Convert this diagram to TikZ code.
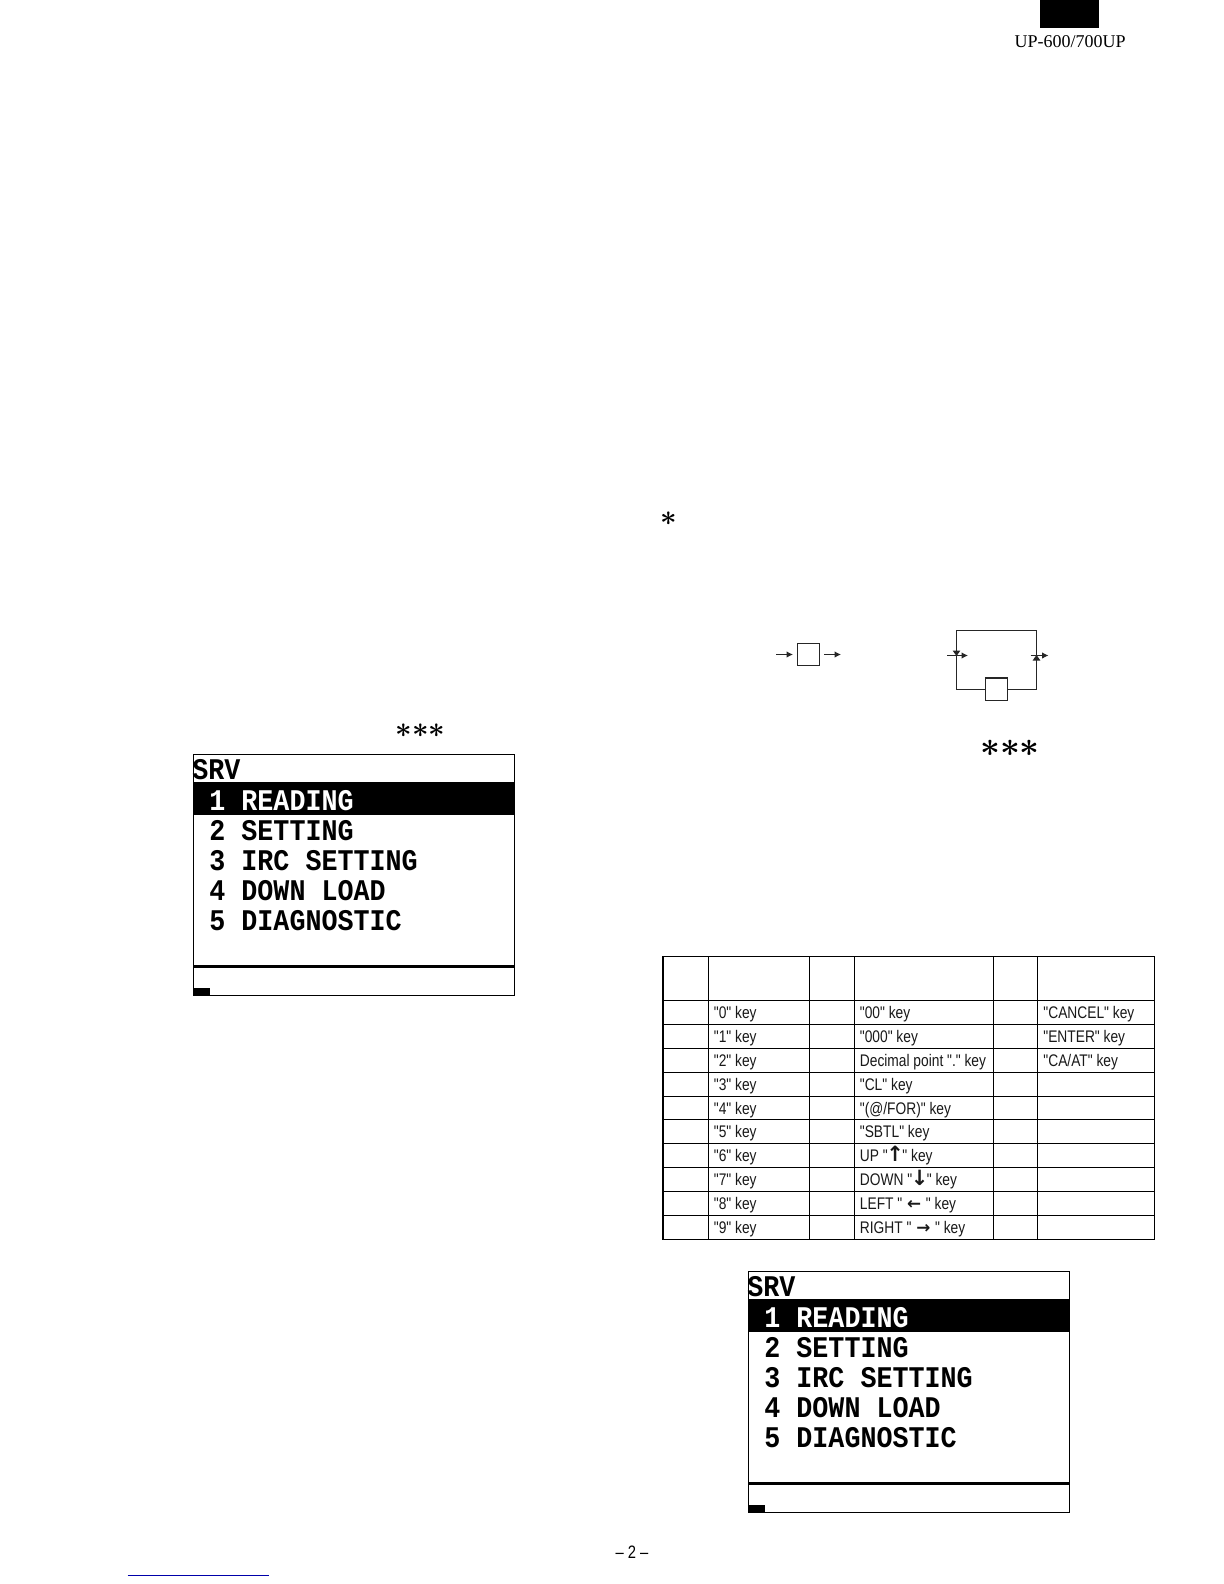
\documentclass[tikz,border=0pt]{standalone}
\usepackage{fontspec}
\usetikzlibrary{arrows.meta}
\setmainfont{Liberation Serif}
\newfontfamily\lcdfont[FakeStretch=0.89]{Liberation Mono Bold}
\newfontfamily\narrowfont[FakeStretch=0.82]{Liberation Sans}
\newfontfamily\arrowfont{DejaVu Sans Bold}
\newcommand{\vkeyarrow}[1]{\makebox[3.5pt][c]{\arrowfont\fontsize{10.5}{10}\selectfont #1}}
\newcommand{\hkeyarrow}[1]{\makebox[8pt][c]{\arrowfont #1}}
\definecolor{linkblue}{RGB}{0,0,170}
\tikzset{
  x=0.5pt,y=-0.5pt,
  lcdtext/.style={anchor=base west,inner sep=0pt,font=\lcdfont\fontsize{15}{15}\selectfont},
  celltext/.style={anchor=base west,inner sep=0pt,font=\narrowfont\fontsize{8.4}{10}\selectfont,text=black!90},
  rule/.style={draw=black,line width=0.6pt},
  flowline/.style={draw=black!85,line width=0.5pt},
  flowarrow/.style={flowline,-{Latex[length=3.2pt,width=3.2pt]}},
  keybox/.style={draw=black!85,line width=0.5pt,fill=white,inner sep=0pt,minimum width=11.2pt,minimum height=11.2pt},
  starmark/.style={inner sep=0pt,text=black}
}
\newcommand{\lcdmenu}[3]{%
  \begin{scope}[shift={(#2,#3)}]
    \draw[rule,line width=0.5pt] (193.5,754.5) rectangle (514.5,995.5);
    \fill[black] (193.5,782) rectangle (514.5,815);
    \fill[black] (193.5,965) rectangle (514.5,968);
    \fill[black] (193.5,988) rectangle (210,995.5);
    \node[lcdtext] (#1srv) at (192,779) {SRV};
    \node[lcdtext,text=white] (#1a) at (209,810) {1 READING};
    \node[lcdtext] (#1b) at (209,840) {2 SETTING};
    \node[lcdtext] (#1c) at (209,870) {3 IRC SETTING};
    \node[lcdtext] (#1d) at (209,900) {4 DOWN LOAD};
    \node[lcdtext] (#1e) at (209,930) {5 DIAGNOSTIC};
  \end{scope}}
\begin{document}
\begin{tikzpicture}
\useasboundingbox (0,0) rectangle (1224,1584);
\fill[white] (0,0) rectangle (1224,1584);
% header
\fill[black] (1040,0) rectangle (1099,28);
\node[anchor=base,inner sep=0pt,font=\fontsize{9}{10}\selectfont,text=black] (model) at (1070,47.5) {UP-600/700UP};
% asterisks
\node[starmark,font=\fontsize{15.8}{16}\selectfont\boldmath] (stars1) at (420.5,731) {${\ast}{\ast}{\ast}$};
\node[starmark,font=\fontsize{15.5}{16}\selectfont\boldmath] (star2) at (669,519) {$\ast$};
\node[starmark,font=\fontsize{16}{17}\selectfont\boldmath] (stars3) at (1010,748) {${\ast}{\ast}{\ast}$};
% menus
\lcdmenu{ma}{0}{0}
\lcdmenu{mb}{555}{517}
% left flow symbol
\node[keybox] (k1) at (808.5,654.5) {};
\coordinate (k1in) at (776,654.5);
\coordinate (k1inend) at (793,654.5);
\coordinate (k1r) at (824,654.5);
\coordinate (k1out) at (841,654.5);
\draw[flowarrow] (k1in) -- (k1inend);
\draw[flowarrow] (k1r) -- (k1out);
% right flow symbol
\coordinate (tl) at (956.5,630.5);
\coordinate (tr) at (1036.5,630.5);
\coordinate (bl) at (956.5,689.5);
\coordinate (br) at (1036.5,689.5);
\draw[flowline] (bl) -- (tl) -- (tr) -- (br) -- (bl);
\node[keybox] (k2) at (996.5,689.5) {};
\draw[black!85,line width=0.9pt] (k2.north west) -- (k2.north east);
\coordinate (lin) at (947.3,655.5);
\coordinate (lout) at (968,655.5);
\coordinate (rin) at (1030.7,655.5);
\coordinate (rout) at (1048.5,655.5);
\draw[flowarrow] (lin) -- (lout);
\draw[flowarrow] (rin) -- (rout);
\fill[black!85] (952.6,650.5) -- (960.4,650.5) -- (956.5,656) -- cycle;
\fill[black!85] (1032.6,660.5) -- (1040.4,660.5) -- (1036.5,655) -- cycle;
% table
\foreach \yy in {956.5,1000.5,1024.5,1048.5,1072.5,1096.5,1119.5,1143.5,1167.5,1191.5,1215.5,1239.5}
  \draw[rule] (662.5,\yy) -- (1154.8,\yy);
\foreach \xx in {708.5,809.5,854.5,993.5,1037.5,1154.5}
  \draw[rule] (\xx,956.2) -- (\xx,1239.8);
\draw[rule,line width=0.9pt] (663.2,956.2) -- (663.2,1239.8);
\foreach \yy/\ta/\tb/\tc in {
  1018.7/{"0" key}/{"00" key}/{"CANCEL" key},
  1042.7/{"1" key}/{"000" key}/{"ENTER" key},
  1066.7/{"2" key}/{Decimal point "." key}/{"CA/AT" key},
  1090.7/{"3" key}/{"CL" key}/{},
  1114.7/{"4" key}/{"(@/FOR)" key}/{},
  1137.7/{"5" key}/{"SBTL" key}/{},
  1161.7/{"6" key}/{UP " \vkeyarrow{↑} " key}/{},
  1185.7/{"7" key}/{DOWN " \vkeyarrow{↓} " key}/{},
  1209.7/{"8" key}/{LEFT " \hkeyarrow{←} " key}/{},
  1233.7/{"9" key}/{RIGHT " \hkeyarrow{→} " key}/{}} {
  \node[celltext] at (713.5,\yy) {\ta};
  \node[celltext] at (859.5,\yy) {\tb};
  \node[celltext] at (1043,\yy) {\tc};
}
% page number
\node[anchor=base,inner sep=0pt,font=\narrowfont\fontsize{9}{10}\selectfont] (page) at (632,1558) {– 2 –};
% link rule
\coordinate (la) at (127.5,1575.5);
\coordinate (lb) at (269,1575.5);
\draw[linkblue,line width=0.5pt] (la) -- (lb);
\end{tikzpicture}
\end{document}
